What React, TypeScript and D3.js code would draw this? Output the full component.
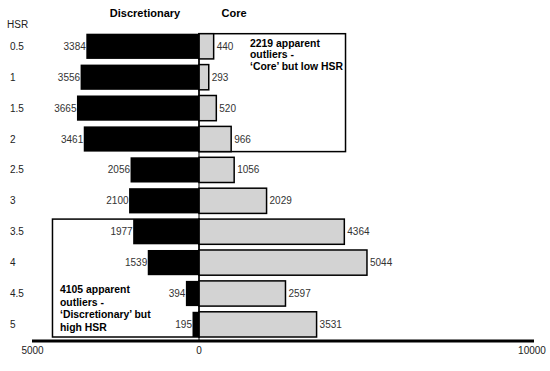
import * as d3 from 'd3';

const categories = ['0.5', '1', '1.5', '2', '2.5', '3', '3.5', '4', '4.5', '5'];
const discretionary = [3384, 3556, 3665, 3461, 2056, 2100, 1977, 1539, 394, 195];
const core = [440, 293, 520, 966, 1056, 2029, 4364, 5044, 2597, 3531];
const xTicks = [-5000, 0, 10000];
const tickLabels = ['5000', '0', '10000'];

const box1Lines = ['2219 apparent', 'outliers -', '\u2018Core\u2019 but low HSR'];
const box2Lines = ['4105 apparent', 'outliers -', '\u2018Discretionary\u2019 but', 'high HSR'];

const W = 550;
const H = 371;
const FONT = 'Liberation Sans, Arial, sans-serif';

export default function App() {
  const x = d3.scaleLinear().domain([-5000, 10000]).range([32.5, 532]);
  const y = d3.scaleBand<string>().domain(categories).range([33.7, 337]).paddingInner(0.184);
  const bw = y.bandwidth();
  const x0 = x(0);
  const axisY = 341;

  const b1Top = y('0.5')!;
  const b1Bottom = y('2')! + bw;
  const b2Top = y('3.5')!;
  const b2Bottom = y('5')! + bw;

  return (
    <svg
      width={W}
      height={H}
      style={{ position: 'absolute', left: 0, top: 0, background: '#fff' }}
      fontFamily={FONT}
    >
      <text x={145} y={17} textAnchor="middle" fontSize={11} fontWeight="bold">Discretionary</text>
      <text x={234} y={17} textAnchor="middle" fontSize={11} fontWeight="bold">Core</text>
      <text x={7} y={28} fontSize={10} fill="#222">HSR</text>

      {/* outlier boxes */}
      <rect x={x0} y={b1Top} width={x(4400) - x0} height={b1Bottom - b1Top}
        fill="none" stroke="#000" strokeWidth={1.5} />
      <rect x={x(-4400)} y={b2Top} width={x0 - x(-4400)} height={b2Bottom - b2Top}
        fill="none" stroke="#000" strokeWidth={1.5} />

      {categories.map((c, i) => {
        const yy = y(c)!;
        const cy = yy + bw / 2;
        return (
          <g key={c}>
            <text x={10} y={cy + 3.5} fontSize={10} fill="#222">{c}</text>
            <rect x={x(-discretionary[i])} y={yy} width={x0 - x(-discretionary[i])} height={bw} fill="#000" />
            <rect x={x0} y={yy} width={x(core[i]) - x0} height={bw}
              fill="#d3d3d3" stroke="#000" strokeWidth={1.5} />
            <text x={x(-discretionary[i]) - 0.5} y={cy + 3.5} textAnchor="end" fontSize={10} fill="#333">
              {discretionary[i]}
            </text>
            <text x={x(core[i]) + 3} y={cy + 3.5} fontSize={10} fill="#333">{core[i]}</text>
          </g>
        );
      })}

      <line x1={x0} x2={x0} y1={b1Top} y2={axisY} stroke="#000" strokeWidth={1} />

      {box1Lines.map((t, i) => (
        <text key={t} x={250} y={46.5 + i * 11.5} fontSize={10.4} fontWeight="bold">{t}</text>
      ))}
      {box2Lines.map((t, i) => (
        <text key={t} x={60} y={293 + i * 12.6} fontSize={10.4} fontWeight="bold">{t}</text>
      ))}

      <line x1={32} x2={534} y1={axisY} y2={axisY} stroke="#000" strokeWidth={3} />
      {xTicks.map((v, i) => (
        <text key={v} x={x(v)} y={354} textAnchor="middle" fontSize={10} fill="#222">{tickLabels[i]}</text>
      ))}
    </svg>
  );
}
